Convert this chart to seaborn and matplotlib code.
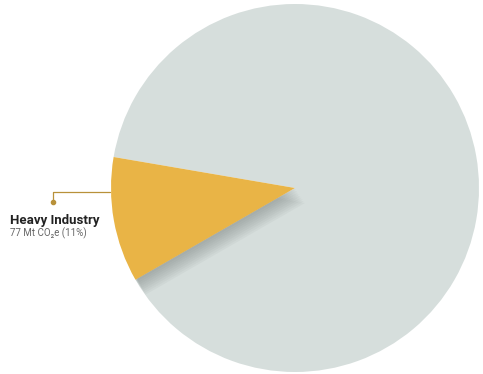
import numpy as np
import matplotlib
matplotlib.use("Agg")
import matplotlib.pyplot as plt
import matplotlib.patheffects as pe
import seaborn as sns

# Data
sectors = ["Heavy Industry", "Other"]
emissions = [77, 623]  # Mt CO2e
label_title = "Heavy Industry"
label_detail = "77 Mt CO₂e (11%)"

colors = ["#E9B446", "#D6DEDC"]

sns.set_theme(style="white")
plt.rcParams['font.family'] = ['Roboto', 'DejaVu Sans']

fig = plt.figure(figsize=(4.83, 3.74), dpi=100)
ax = fig.add_axes([0, 0, 1, 1])

start = 170.3
wedges, _ = ax.pie(emissions, colors=colors, startangle=start, counterclock=True,
                   center=(295, 186), radius=184, frame=True,
                   wedgeprops=dict(linewidth=0))
ax.set_xlim(0, 483)
ax.set_ylim(0, 374)
ax.set_aspect("equal")
ax.axis("off")

# soft shadow beneath the highlighted wedge
wedges[0].set_zorder(3)
shadows = [pe.SimplePatchShadow(offset=(o * 0.8, -o * 1.2), shadow_rgbFace="#6a7270", alpha=0.06)
           for o in range(1, 10)]
wedges[0].set_path_effects(shadows + [pe.Normal()])

# leader line with dot
line_col = "#B8913A"
ax.plot([110, 53, 53], [182, 182, 172], color=line_col, lw=0.9, zorder=4)
ax.plot([53], [172], marker="o", ms=3, color=line_col, zorder=4)

ax.text(10, 154, label_title, fontsize=9.5, fontweight="bold", color="#222222",
        va="center", ha="left")
ax.text(10, 141, label_detail, fontsize=7, color="#666666", va="center", ha="left")

fig.savefig("out.png", dpi=100, facecolor="white")
